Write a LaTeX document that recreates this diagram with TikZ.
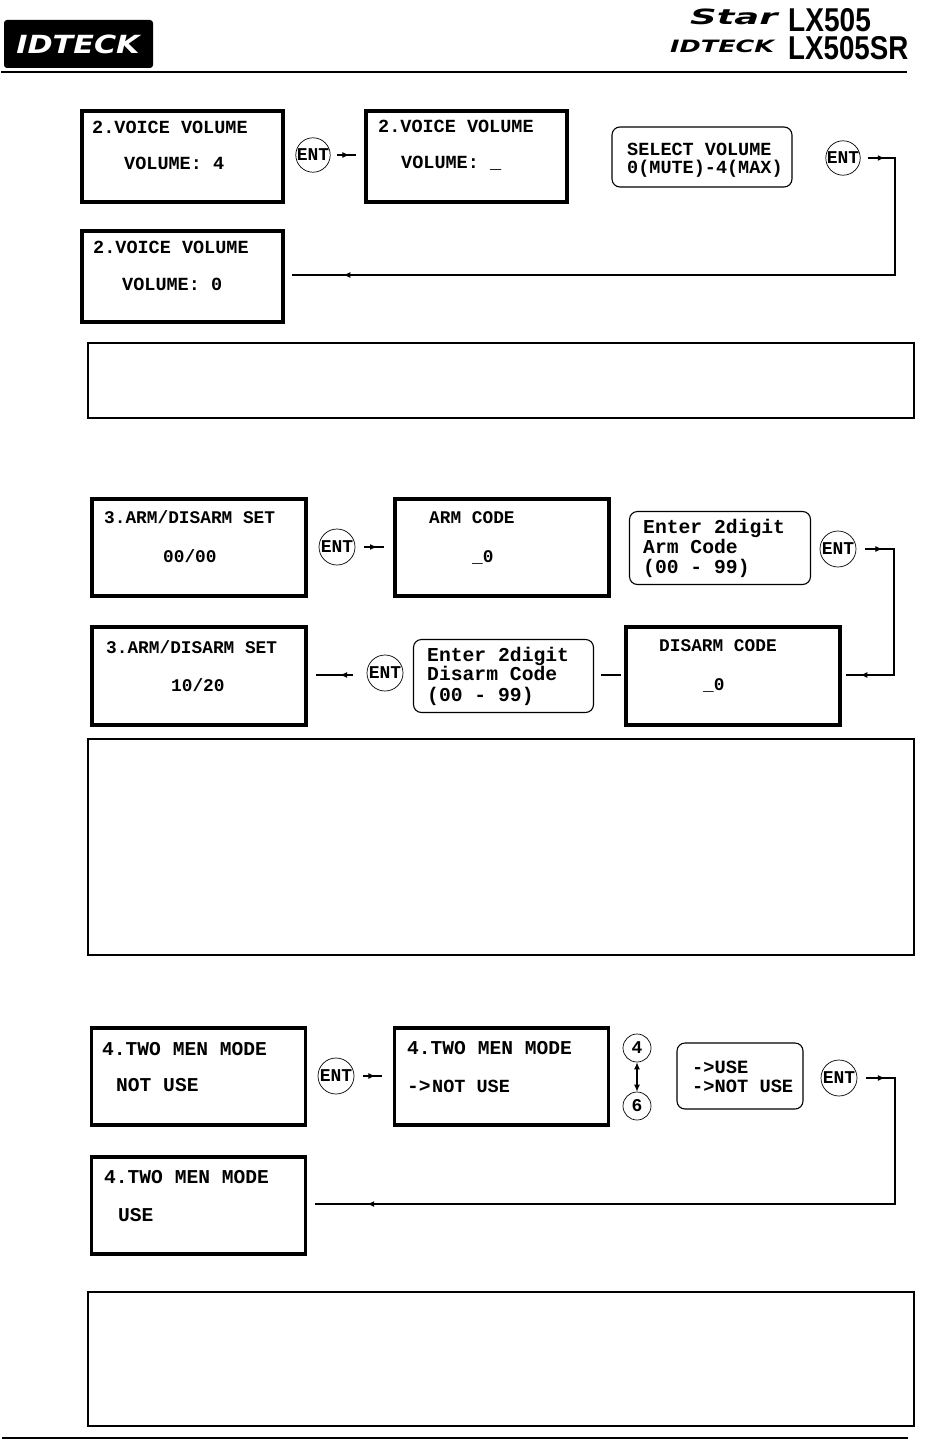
\documentclass[tikz,border=0pt]{standalone}
\usepackage{fontspec}
\setmainfont{Liberation Sans}
\setmonofont{Liberation Mono}
\newfontfamily\brandfont{DejaVu Sans}
\usetikzlibrary{arrows.meta,calc,positioning}
\tikzset{
  panel/.style={draw,line width=3.6pt,inner sep=0pt,minimum width=#1},
  frametext/.style={draw,line width=1.8pt,inner sep=0pt,minimum width=826pt},
  hintbox/.style={draw,line width=1.1pt,rounded corners=8pt,inner sep=0pt},
  entkey/.style={draw,circle,line width=0.7pt,inner sep=0pt,minimum size=#1,font=\ttfamily\bfseries\fontsize{18}{18}\selectfont},
  lcd/.style={anchor=base west,inner sep=0pt,font=\ttfamily\bfseries\fontsize{#1}{#1}\selectfont},
  modelname/.style={anchor=base west,inner sep=0pt,text height=24pt,text depth=0pt,font=\bfseries\fontsize{33}{33}\selectfont},
  flow/.style={line width=1.1pt},
  tipflow/.style={line width=1.1pt,-{Latex[length=7pt,width=6pt]}}
}
\begin{document}
\begin{tikzpicture}[x=1pt,y=-1pt,>=Latex]
\useasboundingbox (0,0) rectangle (924,1439);
\node[fill=black,rounded corners=3pt,minimum width=149pt,minimum height=48pt,inner sep=0pt] (logo) at (78.5,44) {};
\node[text=white,font=\brandfont\bfseries\itshape\fontsize{25}{25}\selectfont] (logotext) at (78,44) {\scalebox{1.21}[1]{IDTECK}};
\node[anchor=base west,inner sep=0pt,font=\brandfont\bfseries\itshape\fontsize{21}{21}\selectfont] (starword) at (690,25) {\scalebox{1.76}[1]{Star}};
\node[modelname] (modelA) at (788,32) {\scalebox{0.85}[1]{LX505}};
\node[anchor=base west,inner sep=0pt,font=\brandfont\bfseries\itshape\fontsize{17}{17}\selectfont] (brandword) at (670,53) {\scalebox{1.5}[1]{IDTECK}};
\node[modelname] (modelB) at (788,60) {\scalebox{0.84}[1]{LX505SR}};
\coordinate (topL) at (1,72);
\coordinate (topR) at (907,72);
\draw[line width=1.4pt] (topL) -- (topR);
\coordinate (botL) at (2,1438);
\coordinate (botR) at (908,1438);
\draw[line width=1.8pt] (botL) -- (botR);

\node[panel=201pt,minimum height=91pt] (voiceA) at (182.5,156.5) {};
\node[panel=201pt,minimum height=91pt] (voiceB) at (466.5,156.5) {};
\node[panel=201pt,minimum height=91pt] (voiceC) at (182.5,276.5) {};
\node[lcd=18.5] (voiceAa) at (92,134) {2.VOICE VOLUME};
\node[lcd=18.5] (voiceAb) at (124,170) {VOLUME: 4};
\node[lcd=18.5] (voiceBa) at (378,133) {2.VOICE VOLUME};
\node[lcd=18.5] (voiceBb) at (401,169) {VOLUME: \_};
\node[lcd=18.5] (voiceCa) at (93,254) {2.VOICE VOLUME};
\node[lcd=18.5] (voiceCb) at (122,290) {VOLUME: 0};
\node[entkey=34pt] (entA) at (313,155) {ENT};
\node[entkey=34pt] (entB) at (843,158) {ENT};
\node[hintbox,minimum width=180pt,minimum height=60pt] (voiceHint) at (702,157) {};
\node[lcd=18.5] (voiceHinta) at (627,156) {SELECT VOLUME};
\node[lcd=18.5] (voiceHintb) at (627,174) {0(MUTE)-4(MAX)};
\coordinate (voiceAOut) at (337,155);
\coordinate (voiceAIn) at (356,155);
\draw[tipflow] (voiceAOut) -- ($(voiceAOut)!0.65!(voiceAIn)$);
\draw[flow] (voiceAOut) -- (voiceAIn);
\coordinate (voiceOut) at (868,158);
\coordinate (voiceBend) at (895,158);
\coordinate (voiceTurn) at (895,275);
\coordinate (voiceEnd) at (292,275);
\draw[flow] (voiceOut) -- (voiceBend) -- (voiceTurn) -- (voiceEnd);
\draw[tipflow] (voiceOut) -- ($(voiceOut)!0.62!(voiceBend)$);
\draw[tipflow] (voiceTurn) -- ($(voiceEnd)!0.085!(voiceTurn)$);
\node[frametext,minimum height=75pt] (voiceNote) at (501,380.5) {};

\node[panel=214pt,minimum height=97pt] (armA) at (199,547.5) {};
\node[panel=214pt,minimum height=97pt] (armB) at (502,547.5) {};
\node[panel=214pt,minimum height=98pt] (armD) at (733,676) {};
\node[panel=214pt,minimum height=98pt] (armE) at (199,676) {};
\node[lcd=17.8] (armAa) at (104,523) {3.ARM/DISARM SET};
\node[lcd=17.8] (armAb) at (163,562) {00/00};
\node[lcd=17.8] (armBa) at (429,523) {ARM CODE};
\node[lcd=17.8] (armBb) at (472,562) {\_0};
\node[lcd=17.8] (armDa) at (659,651) {DISARM CODE};
\node[lcd=17.8] (armDb) at (703,690) {\_0};
\node[lcd=17.8] (armEa) at (106,653) {3.ARM/DISARM SET};
\node[lcd=17.8] (armEb) at (171,691) {10/20};
\node[entkey=36pt] (entC) at (337,547) {ENT};
\node[entkey=36pt] (entD) at (838,549) {ENT};
\node[entkey=36pt] (entE) at (385,673) {ENT};
\node[hintbox,minimum width=181pt,minimum height=73pt] (armHint) at (720,548) {};
\node[lcd=19.7] (armHinta) at (643,533) {Enter 2digit};
\node[lcd=19.7] (armHintb) at (643,553) {Arm Code};
\node[lcd=19.7] (armHintc) at (643,573) {(00 - 99)};
\node[hintbox,minimum width=180pt,minimum height=73pt] (disarmHint) at (503.5,676) {};
\node[lcd=19.7] (disarmHinta) at (427,661) {Enter 2digit};
\node[lcd=19.7] (disarmHintb) at (427,680) {Disarm Code};
\node[lcd=19.7] (disarmHintc) at (427,701) {(00 - 99)};
\coordinate (armAOut) at (364,547);
\coordinate (armAIn) at (384,547);
\draw[tipflow] (armAOut) -- ($(armAOut)!0.65!(armAIn)$);
\draw[flow] (armAOut) -- (armAIn);
\coordinate (armOut) at (865,549);
\coordinate (armBendA) at (894,549);
\coordinate (armBendB) at (894,675);
\coordinate (armEnd) at (846,675);
\draw[flow] (armOut) -- (armBendA) -- (armBendB) -- (armEnd);
\draw[tipflow] (armOut) -- ($(armOut)!0.6!(armBendA)$);
\draw[tipflow] (armBendB) -- ($(armEnd)!0.3!(armBendB)$);
\draw[flow] ([xshift=7pt]disarmHint.east |- armEnd) -- ([xshift=-3pt]armD.west |- armEnd);
\coordinate (armStop) at (316,675);
\coordinate (armStart) at (353,675);
\draw[flow] (armStart) -- (armStop);
\draw[tipflow] (armStart) -- ($(armStart)!0.35!(armStop)$);
\node[frametext,minimum height=216pt] (armNote) at (501,847) {};

\node[panel=214pt,minimum height=97pt] (menA) at (198.5,1076.5) {};
\node[panel=214pt,minimum height=97pt] (menB) at (501.5,1076.5) {};
\node[panel=214pt,minimum height=97pt] (menC) at (198.5,1205.5) {};
\node[lcd=19.6] (menAa) at (102,1055) {4.TWO MEN MODE};
\node[lcd=19.6] (menAb) at (116,1091) {NOT USE};
\node[lcd=19.6] (menBa) at (407,1054) {4.TWO MEN MODE};
\node[lcd=19.6] (menBb) at (407,1092) {->};
\node[lcd=18.5] (menBc) at (432,1092) {NOT USE};
\node[lcd=19.6] (menCa) at (104,1183) {4.TWO MEN MODE};
\node[lcd=19.6] (menCb) at (118,1221) {USE};
\node[entkey=36pt] (entF) at (336,1076) {ENT};
\node[entkey=36pt] (entG) at (839,1078) {ENT};
\node[entkey=28pt] (keyFour) at (637,1048) {4};
\node[entkey=28pt] (keySix) at (637,1106) {6};
\node[hintbox,minimum width=126pt,minimum height=66pt] (menHint) at (740,1076) {};
\node[lcd=18.7] (menHinta) at (692,1073) {->USE};
\node[lcd=18.7] (menHintb) at (692,1092) {->NOT USE};
\coordinate (menAOut) at (363,1076);
\coordinate (menAIn) at (382,1076);
\draw[tipflow] (menAOut) -- ($(menAOut)!0.65!(menAIn)$);
\draw[flow] (menAOut) -- (menAIn);
\draw[line width=1.1pt,{Latex[length=7pt,width=6pt]}-{Latex[length=7pt,width=6pt]}] (keyFour) -- (keySix);
\coordinate (menOut) at (866,1078);
\coordinate (menBendA) at (895,1078);
\coordinate (menBendB) at (895,1204);
\coordinate (menEnd) at (315,1204);
\draw[flow] (menOut) -- (menBendA) -- (menBendB) -- (menEnd);
\draw[tipflow] (menOut) -- ($(menOut)!0.65!(menBendA)$);
\draw[tipflow] (menBendB) -- ($(menEnd)!0.09!(menBendB)$);
\node[frametext,minimum height=134pt] (menNote) at (501,1359) {};
\end{tikzpicture}
\end{document}
